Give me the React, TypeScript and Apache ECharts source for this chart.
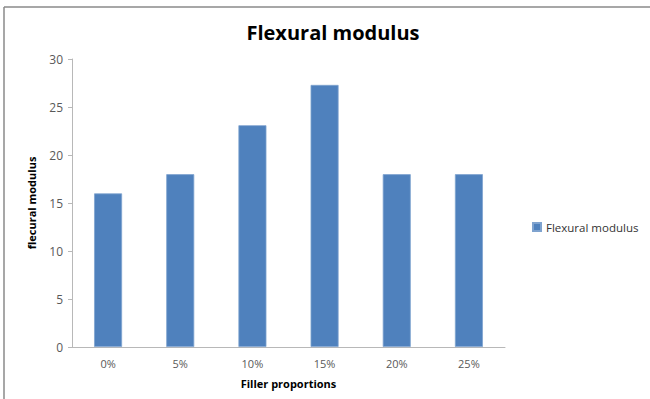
import React, { useEffect, useRef } from "react";
import * as echarts from "echarts";

const categories = ["0%", "5%", "10%", "15%", "20%", "25%"];
const flexuralModulus = [16, 18, 23.1, 27.3, 18, 18];
const yTicks = { min: 0, max: 30, interval: 5 };

export default function App() {
  const ref = useRef<HTMLDivElement>(null);

  useEffect(() => {
    if (!ref.current) return;
    const chart = echarts.init(ref.current, undefined, { renderer: "svg" });
    const font = "'Open Sans', 'Liberation Sans', sans-serif";
    chart.setOption({
      animation: false,
      backgroundColor: "#ffffff",
      textStyle: { fontFamily: font },
      title: {
        text: "Flexural modulus",
        left: 328,
        textAlign: "center",
        top: 17,
        textStyle: { fontFamily: font, fontSize: 20, fontWeight: "bold", color: "#000" },
      },
      legend: {
        data: ["Flexural modulus"],
        orient: "vertical",
        left: 527,
        top: 216,
        itemWidth: 8,
        itemHeight: 8,
        itemGap: 4,
        textStyle: { fontFamily: font, fontSize: 11.5, color: "#333" },
        icon: "rect",
      },
      grid: { left: 72, right: 145, top: 59, bottom: 52 },
      xAxis: {
        type: "category",
        data: categories,
        name: "Filler proportions",
        nameLocation: "middle",
        nameGap: 31,
        nameTextStyle: { fontFamily: font, fontSize: 11, fontWeight: "bold", color: "#000" },
        axisLine: { lineStyle: { color: "#b8b8b8" } },
        axisTick: { show: false },
        axisLabel: { fontFamily: font, fontSize: 11, color: "#595959", margin: 11 },
      },
      yAxis: {
        type: "value",
        min: yTicks.min,
        max: yTicks.max,
        interval: yTicks.interval,
        name: "flecural modulus",
        nameLocation: "middle",
        nameGap: 35,
        nameRotate: 90,
        nameTextStyle: { fontFamily: font, fontSize: 11, fontWeight: "bold", color: "#000" },
        axisLine: { show: true, lineStyle: { color: "#b8b8b8" } },
        axisTick: { show: true, length: 4, lineStyle: { color: "#b8b8b8" } },
        splitLine: { show: false },
        axisLabel: { fontFamily: font, fontSize: 12, color: "#595959", margin: 9 },
      },
      series: [
        {
          name: "Flexural modulus",
          type: "bar",
          data: flexuralModulus,
          barWidth: 28,
          itemStyle: { color: "#4F81BD", borderColor: "#7fa3cf", borderWidth: 0.8 },
        },
      ],
      graphic: [
        {
          type: "line",
          shape: { x1: 4, y1: 7, x2: 650, y2: 7 },
          style: { stroke: "#8a8a8a", lineWidth: 1.5 },
        },
        {
          type: "line",
          shape: { x1: 4, y1: 7, x2: 4, y2: 399 },
          style: { stroke: "#8a8a8a", lineWidth: 1.5 },
        },
      ],
    });
    return () => chart.dispose();
  }, []);

  return (
    <div
      ref={ref}
      style={{ position: "absolute", left: 0, top: 0, width: 650, height: 399 }}
    />
  );
}
